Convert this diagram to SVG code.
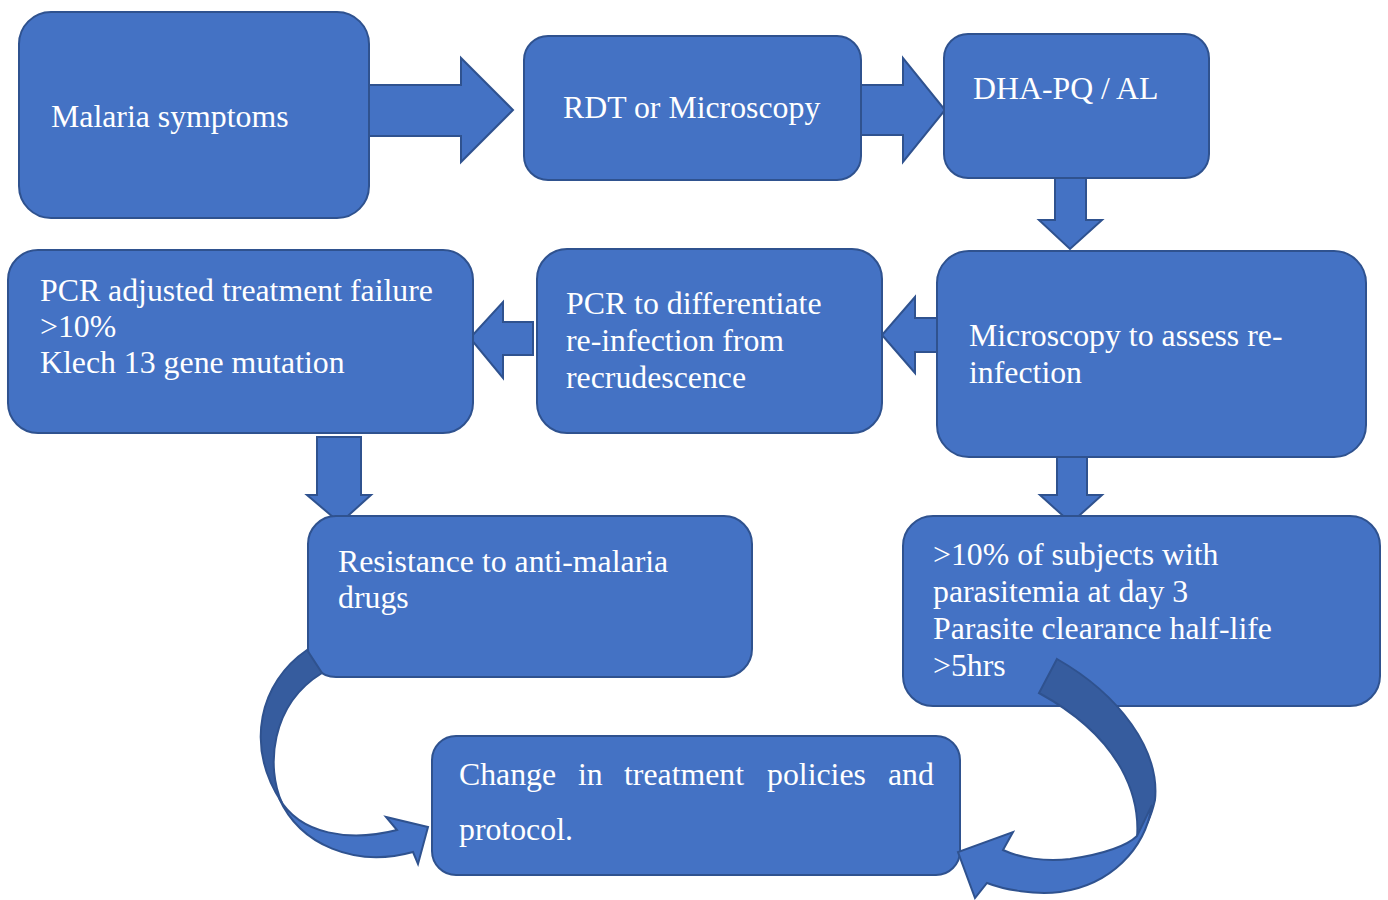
<svg xmlns="http://www.w3.org/2000/svg" width="1388" height="900" viewBox="0 0 1388 900">
<style>
.box{fill:#4472C4;stroke:#2F528F;stroke-width:2}
.arr{fill:#4472C4;stroke:#2F528F;stroke-width:2;stroke-linejoin:miter}
.dark{fill:#365C9E;stroke:#2F528F;stroke-width:2}
text{font-family:"Liberation Serif","Times New Roman",serif;font-size:31.8px;fill:#ffffff}
</style>
<rect width="1388" height="900" fill="#ffffff"/>
<g id="connectors">
<path class="arr" d="M369,85 H461 V58 L513,110 L461,162 V136 H369 Z"/>
<path class="arr" d="M861,85 H903 V58 L945,110 L903,162 V135 H861 Z"/>
<path class="arr" d="M1055,175 H1086 V220 H1102 L1070,249 L1039,220 H1055 Z"/>
<path class="arr" d="M945,318 H915 V297 L882,335 L915,373 V352 H945 Z"/>
<path class="arr" d="M533,322 H503 V302 L470,338 L503,378 V355 H533 Z"/>
<path class="arr" d="M317,437 H361 V495 H371 L340,523 L307,495 H317 Z"/>
<path class="arr" d="M1057,452 H1087 V495 H1102 L1071,523 L1040,495 H1057 Z"/>
</g>
<g id="n1"><rect class="box" x="19" y="12" width="350" height="206" rx="32"/><text x="51" y="127">Malaria symptoms</text></g>
<g id="n2"><rect class="box" x="524" y="36" width="337" height="144" rx="24"/><text x="563" y="118">RDT or Microscopy</text></g>
<g id="n3"><rect class="box" x="944" y="34" width="265" height="144" rx="24"/><text x="973" y="99">DHA-PQ / AL</text></g>
<g id="n4"><rect class="box" x="937" y="251" width="429" height="206" rx="32"/><text x="969" y="346">Microscopy to assess re-</text><text x="969" y="383">infection</text></g>
<g id="n5"><rect class="box" x="537" y="249" width="345" height="184" rx="30"/><text x="566" y="314">PCR to differentiate</text><text x="566" y="351">re-infection from</text><text x="566" y="388">recrudescence</text></g>
<g id="n6"><rect class="box" x="8" y="250" width="465" height="183" rx="30"/><text x="40" y="301">PCR adjusted treatment failure</text><text x="40" y="337">&gt;10%</text><text x="40" y="373">Klech 13 gene mutation</text></g>
<g id="n7"><rect class="box" x="308" y="516" width="444" height="161" rx="28"/><text x="338" y="572">Resistance to anti-malaria</text><text x="338" y="608">drugs</text></g>
<g id="n8"><rect class="box" x="903" y="516" width="477" height="190" rx="30"/><text x="933" y="565">&gt;10% of subjects with</text><text x="933" y="602">parasitemia at day 3</text><text x="933" y="639">Parasite clearance half-life</text><text x="933" y="676">&gt;5hrs</text></g>
<g id="n9"><rect class="box" x="432" y="736" width="528" height="139" rx="24"/><text y="785"><tspan x="459">Change</tspan><tspan x="578">in</tspan><tspan x="624">treatment</tspan><tspan x="767">policies</tspan><tspan x="888">and</tspan></text><text x="459" y="840">protocol.</text></g>
<g id="curved">
<path class="dark" d="M307,650 C260,682 244,745 282,803 C266,768 270,705 322,673 Z"/>
<path class="arr" d="M279,798 C300,845 355,868 413,852 L418,864 L428,827 L386,817 L397,830 C350,842 300,835 279,798 Z"/>
<path class="dark" d="M1057,659 C1120,695 1160,750 1155,800 C1150,822 1143,832 1137,838 C1140,800 1125,740 1039,693 Z"/>
<path class="arr" d="M1152,805 C1145,850 1110,885 1060,892 C1035,895 1005,890 987,883 L975,898 L958,852 L1013,832 L1003,850 C1020,858 1045,862 1070,859 C1105,854 1128,845 1137,836 Z"/>
</g>
</svg>
